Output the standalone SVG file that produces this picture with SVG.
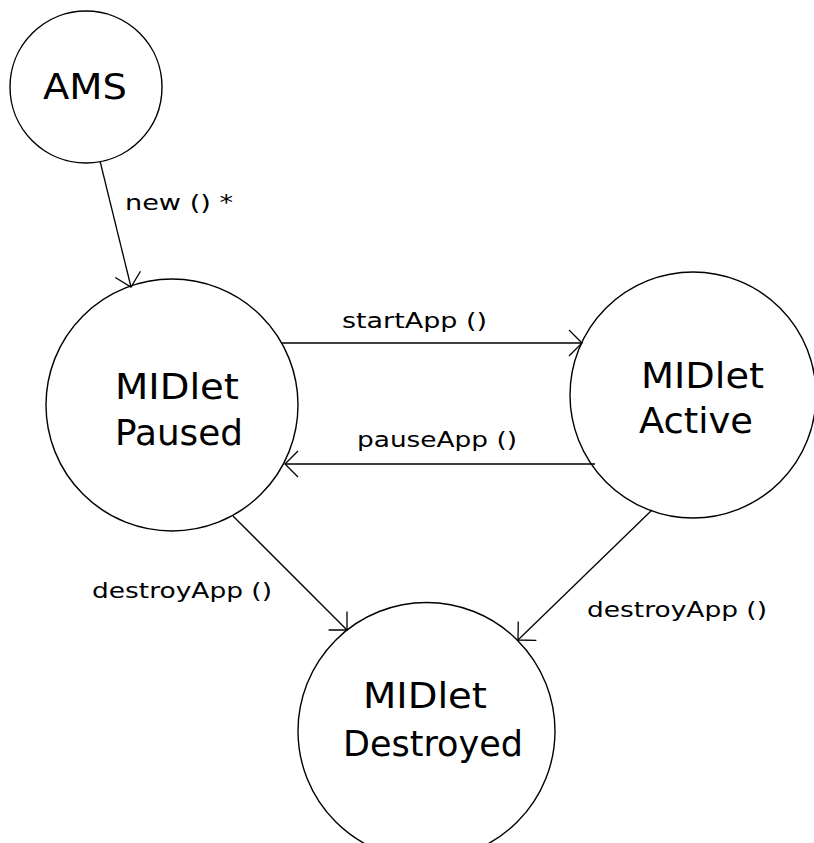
<svg xmlns="http://www.w3.org/2000/svg" width="814" height="843" viewBox="0 0 814 843">
<style>
.node{fill:#fff;stroke:#000;stroke-width:1.4}
.big{font-family:"DejaVu Sans","Liberation Sans",sans-serif;font-size:36px;fill:#000}
.lbl{font-family:"DejaVu Sans","Liberation Sans",sans-serif;font-size:21px;fill:#000}
.edge{fill:none;stroke:#000;stroke-width:1.3}
</style>
<defs>
<marker id="arr" markerUnits="userSpaceOnUse" markerWidth="30" markerHeight="30" viewBox="-20 -15 22 30" refX="0" refY="0" orient="auto">
<path d="M-13,-13 L0,0 L-13,13" fill="none" stroke="#000" stroke-width="1.3"/>
</marker>
</defs>
<rect width="814" height="843" fill="#fff"/>
<g id="ams">
<circle class="node" cx="86" cy="87" r="76"/>
<text class="big" x="43" y="99" textLength="84" lengthAdjust="spacingAndGlyphs">AMS</text>
</g>
<g id="paused">
<circle class="node" cx="172" cy="405" r="126"/>
<text class="big" x="115" y="399" textLength="124" lengthAdjust="spacingAndGlyphs">MIDlet</text>
<text class="big" x="115" y="445" textLength="128" lengthAdjust="spacingAndGlyphs">Paused</text>
</g>
<g id="active">
<circle class="node" cx="693" cy="395" r="123"/>
<text class="big" x="641" y="388" textLength="123" lengthAdjust="spacingAndGlyphs">MIDlet</text>
<text class="big" x="639" y="433" textLength="114" lengthAdjust="spacingAndGlyphs">Active</text>
</g>
<g id="destroyed">
<circle class="node" cx="426.5" cy="731" r="128.5"/>
<text class="big" x="363" y="708" textLength="124" lengthAdjust="spacingAndGlyphs">MIDlet</text>
<text class="big" x="343" y="756" textLength="180" lengthAdjust="spacingAndGlyphs">Destroyed</text>
</g>
<g id="connectors">
<line class="edge" x1="100" y1="161" x2="131" y2="287" marker-end="url(#arr)"/>
<line class="edge" x1="282" y1="343" x2="582" y2="343" marker-end="url(#arr)"/>
<line class="edge" x1="595" y1="464" x2="285" y2="464" marker-end="url(#arr)"/>
<line class="edge" x1="233" y1="516" x2="347" y2="630" marker-end="url(#arr)"/>
<line class="edge" x1="652" y1="510" x2="518" y2="640" marker-end="url(#arr)"/>
<text class="lbl" x="125" y="210" textLength="108" lengthAdjust="spacingAndGlyphs">new () *</text>
<text class="lbl" x="342" y="328" textLength="145" lengthAdjust="spacingAndGlyphs">startApp ()</text>
<text class="lbl" x="357" y="447" textLength="160" lengthAdjust="spacingAndGlyphs">pauseApp ()</text>
<text class="lbl" x="92" y="598" textLength="180" lengthAdjust="spacingAndGlyphs">destroyApp ()</text>
<text class="lbl" x="587" y="617" textLength="180" lengthAdjust="spacingAndGlyphs">destroyApp ()</text>
</g>
</svg>
